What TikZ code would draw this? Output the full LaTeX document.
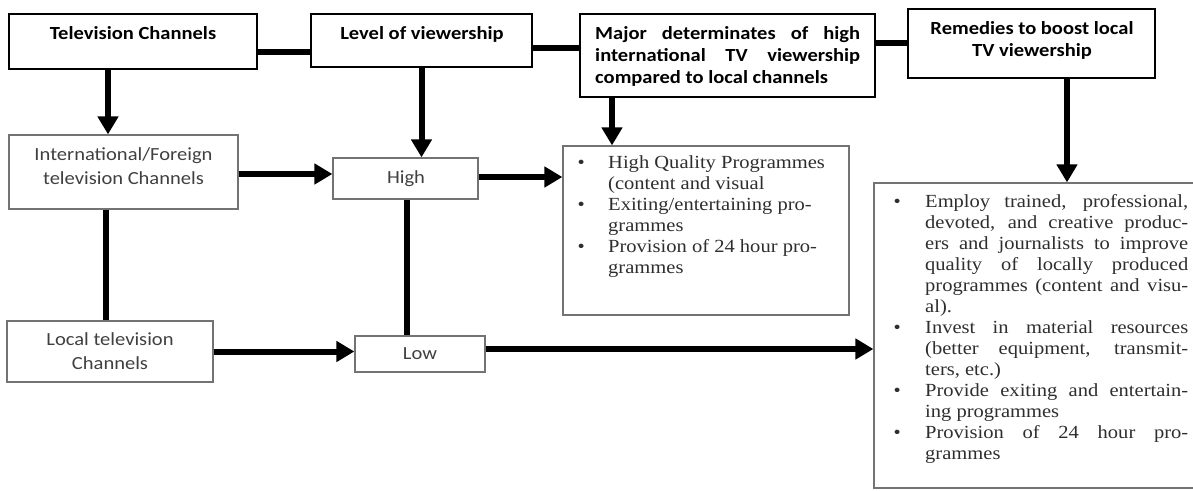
\documentclass[tikz,border=0pt]{standalone}
\usepackage{fontspec}
\usepackage{graphicx}
\setmainfont{Liberation Serif}
\newfontfamily\calib{Carlito}
\usetikzlibrary{arrows.meta}
\newcommand{\sx}[1]{\scalebox{1.11}[1]{#1}}
\newcommand{\jl}[2]{\makebox[#1][s]{#2}}
\newcommand{\bul}[1]{\leavevmode\llap{\textbullet\hspace{#1}}}
\begin{document}
\begin{tikzpicture}[x=1pt,y=-1pt,
  hbox/.style={draw=black, line width=2.6pt, inner sep=0pt},
  lbox/.style={draw=black!55, line width=1.2pt, inner sep=0pt},
  conn/.style={line width=6pt},
  arr/.style={line width=6pt, -{Triangle[length=18pt,width=20pt]}},
  hd/.style={inner sep=0pt, anchor=base, font=\calib\bfseries\fontsize{18.5}{22}\selectfont},
  lt/.style={inner sep=0pt, anchor=base, text=black!75, font=\calib\fontsize{18.5}{24}\selectfont},
  bt/.style={inner sep=0pt, anchor=base west, text=black!82, font=\fontsize{18.5}{21}\selectfont}]
\useasboundingbox (0,0) rectangle (1193,490);
\clip (0,0) rectangle (1193,490);
% heading boxes
\node[hbox, minimum width=248pt, minimum height=55pt] (tv) at (133,41.5) {};
\node[hbox, minimum width=221pt, minimum height=53pt] (lev) at (421.5,40.5) {};
\node[hbox, minimum width=295pt, minimum height=83pt] (maj) at (727.5,55.5) {};
\node[hbox, minimum width=247pt, minimum height=69pt] (rem) at (1031.5,43.5) {};
% lower boxes
\node[lbox, minimum width=229pt, minimum height=74pt] (intl) at (123.5,172) {};
\node[lbox, minimum width=145pt, minimum height=41pt] (high) at (405.5,178.5) {};
\node[lbox, minimum width=286pt, minimum height=169pt] (b1) at (706,230.5) {};
\node[lbox, minimum width=206pt, minimum height=61pt] (loc) at (110,351.5) {};
\node[lbox, minimum width=130pt, minimum height=36pt] (low) at (420,354) {};
\node[lbox, minimum width=346pt, minimum height=305pt] (b2) at (1047,335.5) {};
% texts
\node[hd] (tvt) at (133,39) {\sx{Television Channels}};
\node[hd] (levt) at (422,39) {\sx{Level of viewership}};
\node[hd, anchor=base west] (majt) at (595,39) {\sx{\parbox[t]{238.7pt}{\jl{238.7pt}{Major determinates of high}\\\jl{238.7pt}{international TV viewership}\\compared to local channels}}};
\node[hd] (remt) at (1032,34) {\sx{\parbox[t]{220pt}{\centering Remedies to boost local\\TV viewership}}};
\node[lt] (intlt) at (123.5,160) {\sx{\parbox[t]{200pt}{\centering International/Foreign\\television Channels}}};
\node[lt] (loct) at (110,345) {\sx{\parbox[t]{180pt}{\centering Local television\\Channels}}};
\node[lt] (hight) at (406,183) {\sx{High}};
\node[lt] (lowt) at (420,359) {\sx{Low}};
\node[bt] (b1t) at (608,168) {\sx{\parbox[t]{205pt}{\bul{21pt}High Quality Programmes\\(content and visual\\\bul{21pt}Exiting/entertaining pro-\\grammes\\\bul{21pt}Provision of 24 hour pro-\\grammes}}};
\node[bt] (b2t) at (925,207) {\sx{\parbox[t]{237pt}{%
\bul{22pt}\jl{237pt}{Employ trained, professional,}\\
\jl{237pt}{devoted, and creative produc-}\\
\jl{237pt}{ers and journalists to improve}\\
\jl{237pt}{quality of locally produced}\\
\jl{237pt}{programmes (content and visu-}\\
al).\\
\bul{22pt}\jl{237pt}{Invest in material resources}\\
\jl{237pt}{(better equipment, transmit-}\\
ters, etc.)\\
\bul{22pt}\jl{237pt}{Provide exiting and entertain-}\\
ing programmes\\
\bul{22pt}\jl{237pt}{Provision of 24 hour pro-}\\
grammes}}};
% connectors between headings
\draw[conn] ([yshift=-10.5pt]tv.east) -- ([yshift=-10.5pt]tv.east -| lev.west);
\draw[conn] ([yshift=-7.5pt]lev.east) -- ([yshift=-7.5pt]lev.east -| maj.west);
\draw[conn] ([yshift=12.5pt]maj.east) -- ([yshift=12.5pt]maj.east -| rem.west);
% vertical arrows
\draw[arr] ([xshift=-25pt]tv.south) -- ([xshift=-25pt]tv.south |- intl.north);
\draw[arr] (lev.south) -- (lev.south |- high.north);
\draw[arr] ([xshift=-115.5pt]maj.south) -- ([xshift=-115.5pt]maj.south |- b1.north);
\draw[arr] ([xshift=35.5pt]rem.south) -- ([xshift=35.5pt]rem.south |- b2.north);
% horizontal arrows
\draw[arr] ([yshift=-2pt]intl.east) -- ([yshift=-2pt]intl.east -| high.west);
\draw[arr] ([yshift=1.5pt]high.east) -- ([yshift=1.5pt]high.east -| b1.west);
\draw[arr] (loc.east) -- (loc.east -| low.west);
\draw[arr] ([yshift=5pt]low.east) -- ([yshift=5pt]low.east -| b2.west);
% vertical plain lines
\draw[conn] ([xshift=-17.5pt]intl.south) -- ([xshift=-17.5pt]intl.south |- loc.north);
\draw[conn] ([xshift=1.5pt]high.south) -- ([xshift=1.5pt]high.south |- low.north);
\end{tikzpicture}
\end{document}
